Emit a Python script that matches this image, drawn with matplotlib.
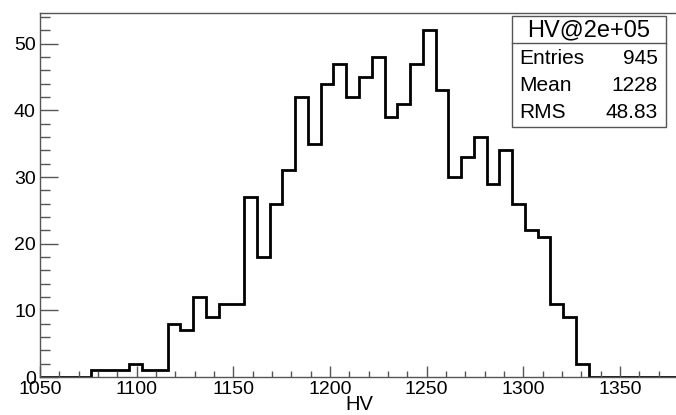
import numpy as np
import matplotlib
matplotlib.use("Agg")
import matplotlib.pyplot as plt
from matplotlib.ticker import MultipleLocator
from matplotlib.patches import Rectangle
from matplotlib.lines import Line2D

plt.rcParams['font.family'] = ['Liberation Sans', 'DejaVu Sans']

# 50 bins between 1050 and 1380
x_min, x_max, n_bins = 1050, 1380, 50
counts = [0, 0, 0, 0, 1, 1, 1, 2, 1, 1,
          8, 7, 12, 9, 11, 11, 27, 18, 26, 31,
          42, 35, 44, 47, 42, 45, 48, 39, 41, 47,
          52, 43, 30, 33, 36, 29, 34, 26, 22, 21,
          11, 9, 2, 0, 0, 0, 0, 0, 0, 0]
stat_title = "HV@2e+05"
stat_names = ["Entries", "Mean", "RMS"]
stat_values = ["945", "1228", "48.83"]

edges = np.linspace(x_min, x_max, n_bins + 1)

W, H = 676, 415
fig = plt.figure(figsize=(W / 100, H / 100), dpi=100)
ax = fig.add_axes([40 / W, 38 / H, (678 - 40) / W, (377 - 13) / H])

ax.stairs(counts, edges, color='black', linewidth=2.0)

ax.set_xlim(x_min, x_max)
ax.set_ylim(0, max(counts) * 1.05)

frame = '#555555'
for s in ax.spines.values():
    s.set_color(frame)
    s.set_linewidth(1.0)

ax.xaxis.set_major_locator(MultipleLocator(50))
ax.xaxis.set_minor_locator(MultipleLocator(10))
ax.yaxis.set_major_locator(MultipleLocator(10))
ax.yaxis.set_minor_locator(MultipleLocator(2))
ax.tick_params(axis='x', which='major', direction='in', length=8, width=1,
               color=frame, labelsize=14, pad=3, top=False)
ax.tick_params(axis='x', which='minor', direction='in', length=4.5, width=1,
               color=frame, top=False)
ax.tick_params(axis='y', which='major', direction='in', length=13, width=1,
               color=frame, labelsize=14, pad=3, right=False)
ax.tick_params(axis='y', which='minor', direction='in', length=7, width=1,
               color=frame, right=False)

ax.set_xlabel("HV", fontsize=14.5, labelpad=-2)

# statistics box
bx0, bx1, by0, by1, bdiv = 512, 666, 16, 127, 43
def fx(px):
    return px / W
def fy(py):
    return 1 - py / H

fig.add_artist(Rectangle((fx(bx0), fy(by1)), fx(bx1) - fx(bx0), fy(by0) - fy(by1),
                         transform=fig.transFigure, facecolor='white',
                         edgecolor=frame, linewidth=1.0))
fig.add_artist(Line2D([fx(bx0), fx(bx1)], [fy(bdiv), fy(bdiv)],
                      transform=fig.transFigure, color=frame, linewidth=1.0))
fig.text(fx((bx0 + bx1) / 2), fy(30), stat_title, ha='center', va='center', fontsize=17)
for i, (name, val) in enumerate(zip(stat_names, stat_values)):
    yy = fy(58 + 27.5 * i)
    fig.text(fx(519), yy, name, ha='left', va='center', fontsize=15)
    fig.text(fx(658), yy, val, ha='right', va='center', fontsize=15)

fig.savefig("out.png", dpi=100)
